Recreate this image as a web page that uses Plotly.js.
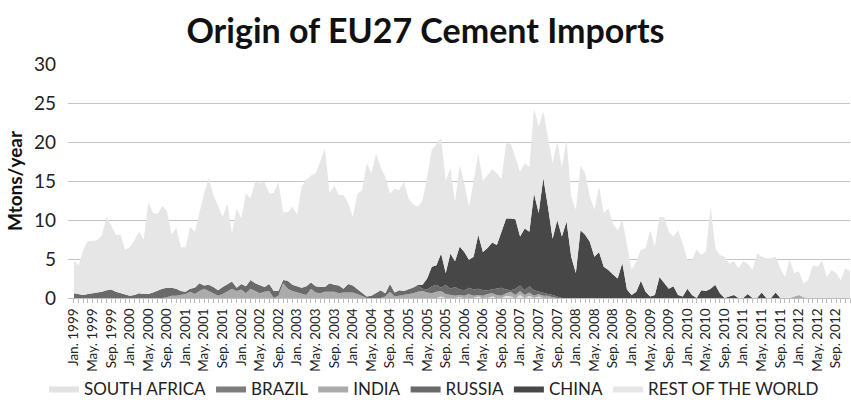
<!DOCTYPE html>
<html>
<head>
<meta charset="utf-8">
<script src="https://cdn.plot.ly/plotly-3.0.1.min.js"></script>
<style>html,body{margin:0;padding:0;background:#fff;}#chart{width:851px;height:412px;}</style>
</head>
<body>
<div id="chart"></div>
<script>
// Categories: monthly, Jan. 1999 – Dec. 2012
const monthNames = ['Jan.','Feb.','Mar.','Apr.','May.','Jun.','Jul.','Aug.','Sep.','Oct.','Nov.','Dec.'];
const years = [1999,2000,2001,2002,2003,2004,2005,2006,2007,2008,2009,2010,2011,2012];
const months = [];
years.forEach(y => monthNames.forEach(n => months.push(n + ' ' + y)));
const tickLabels = months.map((m, i) => (i % 4 === 0 ? m : ''));

// Series values (Mtons/year), one row per year
const southAfrica = [
 0,0,0,0,0,0,0,0,0,0,0,0,
 0,0,0,0,0,0,0,0,0,0,0,0,
 0,0,0,0,0,0,0,0,0,0,0,0,
 0,0,0,0,0,0,0,0,0,0,0,0,
 0,0,0,0,0,0,0,0,0,0,0,0,
 0,0,0,0,0,0,0,0,0,0,0,0,
 0,0,0,0,0,0,0,0.2,0,0,0,0.1,
 0,0,0,0.2,0,0,0.2,0,0,0.3,0.2,0,
 0.4,0,0.3,0,0.2,0,0,0,0,0,0,0,
 0,0,0,0,0,0,0,0,0,0,0,0,
 0,0,0,0,0,0,0,0,0,0,0,0,
 0,0,0,0,0,0,0,0,0,0,0,0,
 0,0,0,0,0,0,0,0,0,0,0,0,
 0,0,0,0,0,0,0,0,0,0,0,0
];
const brazil = [
 0,0,0,0,0,0,0,0,0,0,0,0,
 0,0,0,0,0,0,0,0,0,0,0,0,
 0,0,0,0,0,0,0,0,0,0,0,0,
 0,0,0,0,0,0,0,0,0,0,0,0,
 0,0,0,0,0,0,0,0,0,0,0,0,
 0,0,0,0,0,0,0,0,0,0,0,0,
 0,0,0,0,0,0,0,0,0,0,0,0,
 0.1,0,0,0,0.1,0,0,0.1,0,0,0,0.1,
 0,0.1,0,0,0,0,0,0,0,0,0,0,
 0,0,0,0,0,0,0,0,0,0,0,0,
 0,0,0,0,0,0,0,0,0,0,0,0,
 0,0,0,0,0,0,0,0,0,0,0,0,
 0,0,0,0,0,0,0,0,0,0,0,0,
 0,0,0,0,0,0,0,0,0,0,0,0
];
const india = [
 0,0,0,0,0,0,0,0,0,0,0,0,
 0,0,0,0,0,0,0,0,0.1,0.3,0.3,0.4,
 0.5,0.8,0.5,0.9,1.2,0.9,0.6,0.3,0.5,0.8,1.2,0.9,
 1.1,0.6,1.2,0.9,0.6,0.8,0.9,0.0,0.3,1.9,1.2,0.9,
 0.7,0.6,0.4,1.2,0.7,0.6,0.8,0.8,0.8,0.6,0.7,0.7,
 0.7,0.5,0.2,0,0,0,0,0.2,0.8,0.2,0.3,0.4,
 0.5,0.6,0.8,0.9,0.7,0.6,0.8,0.7,0.5,0.4,0.3,0.3,
 0.2,0.5,0.3,0.2,0.2,0.5,0.4,0.3,0.3,0.3,0.6,0.3,
 0.5,0.3,0.4,0.3,0.3,0.3,0.3,0.1,0,0,0,0,
 0,0,0,0,0,0,0,0,0,0,0,0,
 0,0,0,0,0,0,0,0,0,0,0,0,
 0,0,0,0,0,0,0,0,0,0,0,0,
 0,0,0,0,0,0,0,0,0,0,0,0.2,
 0.4,0.1,0,0,0,0,0,0,0,0,0,0
];
const russia = [
 0.6,0.5,0.4,0.5,0.6,0.7,0.8,1.0,1.1,0.8,0.6,0.5,
 0.3,0.4,0.6,0.5,0.5,0.7,1.0,1.2,1.2,1.0,0.9,0.5,
 0.3,0.4,0.8,1.0,0.4,0.8,0.8,0.7,0.9,1.0,0.9,0.4,
 0.7,0.9,1.1,1.0,1.0,0.6,0.9,0.9,0.6,0.4,1.0,0.8,
 0.8,0.7,1.1,0.8,0.8,0.8,0.6,1.1,0.9,1.0,0.5,1.1,
 0.9,0.6,0.4,0.2,0.3,0.6,1.0,0.4,1.0,0.5,0.7,0.5,
 0.6,0.7,0.8,0.3,0.4,0.9,0.9,0.4,1.2,0.8,1.1,0.7,
 0.7,0.8,0.8,0.8,0.7,0.5,0.5,0.8,1.0,0.5,0.2,0.8,
 0.7,0.6,0.8,0.7,0.3,0.4,0.2,0.3,0.2,0,0,0,
 0,0,0,0,0,0,0,0,0,0,0,0,
 0,0,0,0,0,0,0,0,0,0,0,0,
 0,0,0,0,0,0,0,0,0,0,0,0,
 0,0,0,0,0,0,0,0,0,0,0,0,
 0,0,0,0,0,0,0,0,0,0,0,0
];
const china = [
 0,0,0,0,0,0,0,0,0,0,0,0,
 0,0,0,0,0,0,0,0,0,0,0,0,
 0,0,0,0,0,0,0,0,0,0,0,0,
 0,0,0,0,0,0,0,0,0,0,0,0,
 0,0,0,0,0,0,0,0,0,0,0,0,
 0,0,0,0,0,0,0,0,0,0,0,0,
 0,0,0.1,0.5,1.4,2.5,2.5,4.4,1.5,4.5,3.3,5.5,
 4.9,3.6,4.2,6.9,4.9,5.4,6.0,5.6,7.2,9.1,9.2,8.9,
 6.3,7.9,7.0,12.4,10.1,14.7,11.2,7.2,9.8,7.9,9.8,5.3,
 3.2,8.7,8.1,7.2,5.3,5.9,4.0,3.6,3.0,2.5,4.5,1.1,
 0.4,0.8,2.2,0.8,0.2,0.4,2.7,1.9,1.2,1.5,0.4,0.2,
 1.2,0.4,0,1.0,0.9,1.2,1.7,0.6,0,0.2,0.4,0,
 0,0.5,0,0,0.7,0,0,0.7,0,0,0,0,
 0,0,0,0,0,0,0,0,0,0,0,0
];
const restOfWorld = [
 4.2,3.7,5.8,6.8,6.7,6.7,7.2,9.4,8.2,7.3,7.5,5.7,
 6.2,7.0,7.9,7.0,11.8,10.2,9.8,10.6,9.9,6.8,7.8,5.6,
 5.7,7.9,7.2,9.2,11.8,13.7,11.8,10.8,9.0,10.3,6.2,10.2,
 8.4,11.9,10.5,13.1,13.1,13.5,11.6,12.6,14.0,8.7,8.8,10.0,
 9.2,13.0,13.7,13.7,14.5,16.1,17.8,11.6,12.7,11.6,12.0,10.4,
 8.8,12.3,13.2,17.1,15.7,17.9,15.8,14.9,11.6,13.3,12.8,14.0,
 11.7,10.7,10.0,10.8,13.0,15.0,15.6,14.8,11.8,10.9,7.6,10.4,
 8.8,6.8,9.7,10.4,9.1,9.4,9.4,9.2,6.7,9.6,9.6,7.9,
 8.3,8.4,8.3,10.9,11.1,8.5,8.8,9.7,10.0,8.9,10.5,7.7,
 8.1,8.3,7.9,5.8,6.0,8.4,6.9,7.9,6.5,6.2,5.5,5.9,
 3.2,3.9,4.0,5.6,8.5,6.2,7.7,8.5,7.3,6.4,8.3,6.8,
 3.7,4.5,6.2,4.5,5.1,10.5,4.7,4.9,5.3,4.2,4.3,3.8,
 4.7,3.9,3.6,5.7,4.6,5.1,5.1,4.6,3.8,2.7,4.9,3.0,
 3.0,1.8,2.3,4.2,4.0,4.8,2.7,3.6,3.2,2.3,3.8,3.4
];

const seriesNames = ['SOUTH AFRICA','BRAZIL','INDIA','RUSSIA','CHINA','REST OF THE WORLD'];
const seriesValues = [southAfrica, brazil, india, russia, china, restOfWorld];
const seriesColors = ['#e2e2e2','#7d7d7d','#ababab','#6a6a6a','#474747','#e6e6e6'];

const FONT = 'Lato, "Open Sans", sans-serif';

const traces = seriesNames.map((name, k) => ({
  type: 'scatter',
  mode: 'lines',
  name: name,
  x: months,
  y: seriesValues[k],
  stackgroup: 'one',
  line: {width: 0, color: seriesColors[k]},
  fillcolor: seriesColors[k],
  hoverinfo: 'x+y+name'
}));

const layout = {
  width: 851,
  height: 412,
  margin: {l: 68, r: 1, t: 64, b: 114},
  paper_bgcolor: '#ffffff',
  plot_bgcolor: '#ffffff',
  font: {family: FONT, color: '#222222'},
  title: {
    text: '<b>Origin of EU27 Cement Imports</b>',
    font: {family: FONT, size: 34, color: '#111111'},
    x: 0.5, xref: 'container', xanchor: 'center',
    y: 0.925, yref: 'container', yanchor: 'middle'
  },
  xaxis: {
    type: 'category',
    range: [-1.29, 167],
    tickmode: 'array',
    tickvals: months,
    ticktext: tickLabels,
    tickangle: -90,
    tickfont: {family: FONT, size: 13.5, color: '#222222'},
    ticks: 'outside',
    ticklen: 4,
    tickwidth: 1,
    tickcolor: '#bdbdbd',
    showline: true,
    linecolor: '#bdbdbd',
    linewidth: 1,
    showgrid: false,
    zeroline: false
  },
  yaxis: {
    range: [0, 30],
    dtick: 5,
    tick0: 0,
    showgrid: true,
    gridcolor: '#c4c4c4',
    gridwidth: 1,
    zeroline: false,
    showline: false,
    ticks: '',
    ticklabelstandoff: 11,
    tickfont: {family: FONT, size: 19, color: '#222222'},
    title: {text: '<b>Mtons/year</b>', font: {family: FONT, size: 19, color: '#111111'}, standoff: 6}
  },
  showlegend: true,
  legend: {
    orientation: 'h',
    traceorder: 'normal',
    x: 0.51, xref: 'container', xanchor: 'center',
    y: 0.056, yref: 'container', yanchor: 'middle',
    font: {family: FONT, size: 17, color: '#222222'},
    itemwidth: 30,
    bgcolor: 'rgba(0,0,0,0)'
  }
};

Plotly.newPlot('chart', traces, layout, {displayModeBar: false, staticPlot: true});
</script>
</body>
</html>
